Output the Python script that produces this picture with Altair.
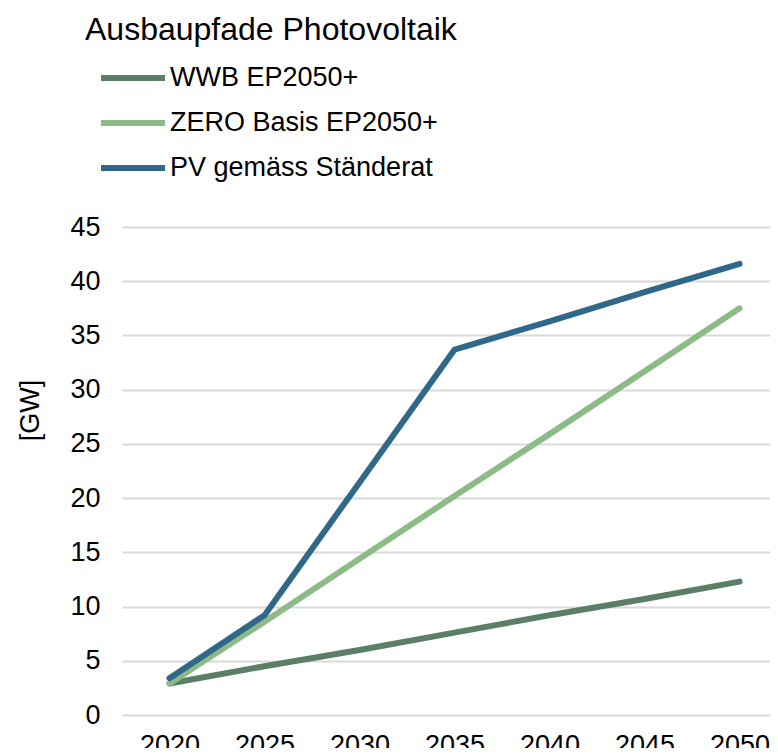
import altair as alt
import pandas as pd

years = [2020, 2025, 2030, 2035, 2040, 2045, 2050]
series_names = ["WWB EP2050+", "ZERO Basis EP2050+", "PV gemäss Ständerat"]
wwb = [2.9, 4.5, 6.0, 7.6, 9.2, 10.7, 12.3]
zero = [2.9, 8.6, 14.4, 20.2, 25.9, 31.7, 37.5]
pv = [3.4, 9.2, 21.45, 33.7, 36.3, 39.0, 41.6]
colors = ["#5b7f66", "#8dbb87", "#30688a"]

rows = []
for i, (name, vals) in enumerate(zip(series_names, [wwb, zero, pv])):
    for y, v in zip(years, vals):
        rows.append({"Jahr": y, "GW": v, "Serie": name, "order": i})
df = pd.DataFrame(rows)

FONT = "Liberation Sans"
FS = 27

chart = alt.Chart(df).mark_line(strokeWidth=6, strokeCap="round", strokeJoin="round").encode(
    x=alt.X("Jahr:Q",
            scale=alt.Scale(domain=[2017.5, 2051.6], nice=False, zero=False),
            axis=alt.Axis(values=years, format="d", title=None, grid=False, domain=False,
                          ticks=False, labelFontSize=FS, labelPadding=17, labelColor="#000",
                          labelFont=FONT, labelFlush=False)),
    y=alt.Y("GW:Q",
            scale=alt.Scale(domain=[0, 45], nice=False),
            axis=alt.Axis(values=list(range(0, 50, 5)), title="[GW]", domain=False, ticks=False,
                          gridColor="#d9d9d9", gridWidth=2, labelFontSize=FS, labelPadding=22,
                          labelColor="#000", labelFont=FONT, titleFont=FONT, titleFontSize=FS,
                          titleFontWeight="normal", titleColor="#000", titleAngle=-90,
                          titleX=-92, titleY=183, titleAlign="center", titleBaseline="middle")),
    color=alt.Color("Serie:N",
                    scale=alt.Scale(domain=series_names, range=colors),
                    legend=alt.Legend(title=None, orient="none", legendX=-8, legendY=-168,
                                      symbolType="M-2,0H2", symbolSize=1024, symbolStrokeWidth=6,
                                      labelFontSize=FS, labelFont=FONT, labelColor="#000",
                                      labelOffset=18, rowPadding=13, labelLimit=500)),
    order=alt.Order("order:Q"),
    detail="Serie:N",
).properties(
    width=648,
    height=488,
    autosize=alt.AutoSizeParams(type="none"),
    padding={"left": 114, "top": 219, "right": 0, "bottom": 33},
    title=alt.TitleParams("Ausbaupfade Photovoltaik", anchor="start", frame="group",
                          font=FONT, fontSize=32, fontWeight="normal", color="#000",
                          dx=-37, offset=12),
).configure_view(stroke=None)

chart.save("out.html", embed_options={"renderer": "svg", "actions": False})
